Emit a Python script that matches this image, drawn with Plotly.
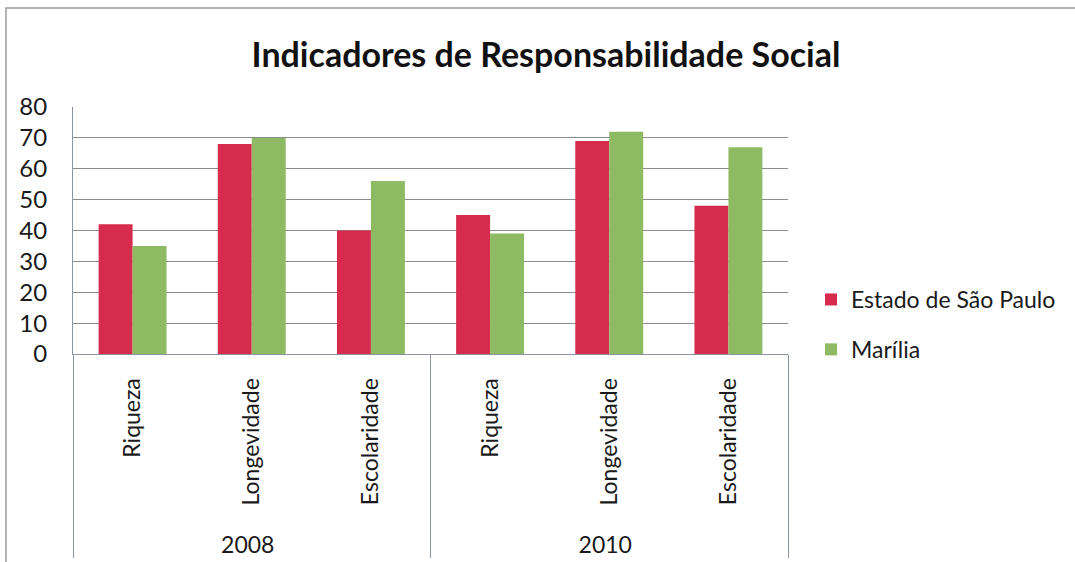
import plotly.graph_objects as go

# Data
anos = ["2008", "2008", "2008", "2010", "2010", "2010"]
indicadores = ["Riqueza", "Longevidade", "Escolaridade",
               "Riqueza", "Longevidade", "Escolaridade"]
estado_sp = [42, 68, 40, 45, 69, 48]
marilia = [35, 70, 56, 39, 72, 67]
serie_nomes = ["Estado de São Paulo", "Marília"]
y_ticks = [0, 10, 20, 30, 40, 50, 60, 70, 80]

COR_SP = "#D72B4E"
COR_MARILIA = "#8FBA64"
FONT = "Lato"
W, H = 1075, 562
ML, MR, MT, MB = 73, 287, 107, 208

# non-breaking padding under the rotated labels pushes the year row down
pad = "\u00a0" * 3
rotulos = [pad + c for c in indicadores]

fig = go.Figure()
fig.add_bar(x=[anos, rotulos], y=estado_sp, name=serie_nomes[0],
            marker=dict(color=COR_SP, line=dict(width=0)), legendgroup="sp")
fig.add_bar(x=[anos, rotulos], y=marilia, name=serie_nomes[1],
            marker=dict(color=COR_MARILIA, line=dict(width=0)), legendgroup="ma")

pw, ph = W - ML - MR, H - MT - MB

def px_x(v):
    return (v - ML) / pw

def px_y(v):
    return (H - MB - v) / ph

fig.update_layout(
    width=W, height=H,
    margin=dict(l=ML, r=MR, t=MT, b=MB, autoexpand=False),
    paper_bgcolor="white", plot_bgcolor="white",
    font=dict(family=FONT, size=23, color="#1a1a1a"),
    barmode="group", bargap=0.43, bargroupgap=0,
    title=dict(text="<b>Indicadores de Responsabilidade Social</b>",
               x=546 / W, xanchor="center", y=1 - 55 / H, yanchor="middle",
               font=dict(family=FONT, size=34, color="#111")),
    legend=dict(x=px_x(811), xanchor="left", y=px_y(278), yanchor="top",
                font=dict(size=23), tracegroupgap=17, itemwidth=30,
                bgcolor="rgba(0,0,0,0)"),
    showlegend=True,
    shapes=[dict(type="rect", xref="paper", yref="paper",
                 x0=px_x(6), x1=px_x(1080), y0=px_y(580), y1=px_y(8),
                 line=dict(color="#9a9a9a", width=1.5), layer="below")],
)
fig.update_yaxes(range=[0, 80], tickvals=y_ticks, showgrid=True,
                 gridcolor="#8c8c8c", gridwidth=1, showline=True,
                 linecolor="#8c94a3", linewidth=1, ticks="",
                 ticklabelstandoff=20, zeroline=False,
                 tickfont=dict(size=24))
fig.update_xaxes(type="multicategory", tickangle=-90, showline=True,
                 linecolor="#8c94a3", linewidth=1, showdividers=True,
                 dividercolor="#8c94a3", dividerwidth=1, ticks="",
                 ticklabelstandoff=14)

fig.write_html("out.html")
